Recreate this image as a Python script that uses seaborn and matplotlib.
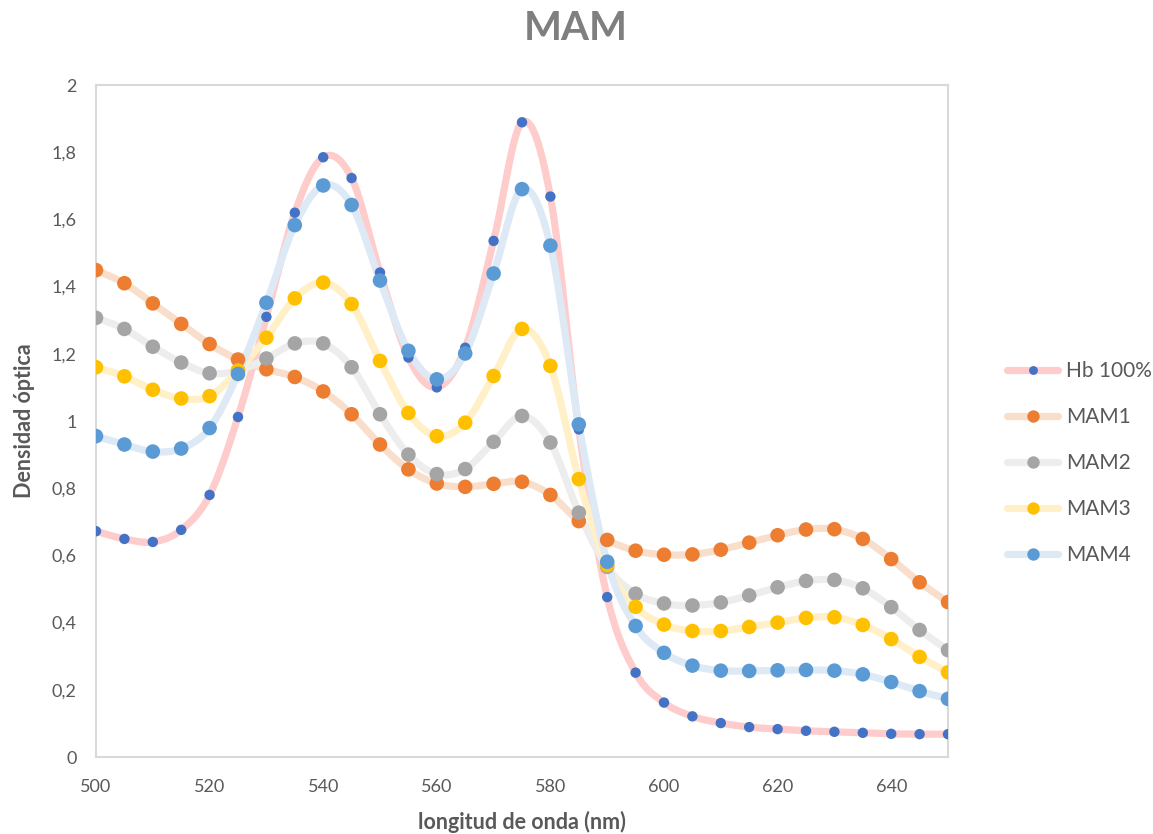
import numpy as np
import pandas as pd
import matplotlib
matplotlib.use("Agg")
import matplotlib.pyplot as plt
import seaborn as sns
from matplotlib.lines import Line2D

wavelength = list(range(500, 651, 5))
hb100 = [0.672, 0.649, 0.640, 0.676, 0.780, 1.012, 1.310, 1.620, 1.785, 1.723,
         1.442, 1.189, 1.100, 1.218, 1.536, 1.889, 1.668, 0.975, 0.476, 0.251,
         0.162, 0.121, 0.101, 0.089, 0.083, 0.078, 0.075, 0.072, 0.069, 0.068, 0.068]
mam1 = [1.449, 1.410, 1.350, 1.289, 1.229, 1.183, 1.154, 1.131, 1.088, 1.020,
        0.930, 0.856, 0.814, 0.804, 0.813, 0.819, 0.780, 0.702, 0.646, 0.614,
        0.602, 0.603, 0.617, 0.638, 0.660, 0.677, 0.678, 0.649, 0.589, 0.520, 0.461]
mam2 = [1.307, 1.274, 1.221, 1.174, 1.142, 1.150, 1.186, 1.231, 1.231, 1.160,
        1.020, 0.900, 0.842, 0.857, 0.938, 1.015, 0.936, 0.727, 0.566, 0.486,
        0.457, 0.451, 0.460, 0.481, 0.505, 0.524, 0.527, 0.502, 0.446, 0.378, 0.318]
mam3 = [1.160, 1.133, 1.093, 1.067, 1.074, 1.150, 1.248, 1.365, 1.412, 1.348,
        1.179, 1.024, 0.955, 0.995, 1.134, 1.274, 1.164, 0.827, 0.571, 0.447,
        0.394, 0.375, 0.375, 0.387, 0.400, 0.414, 0.416, 0.393, 0.351, 0.298, 0.252]
mam4 = [0.955, 0.930, 0.909, 0.918, 0.979, 1.140, 1.352, 1.583, 1.701, 1.643,
        1.418, 1.209, 1.124, 1.201, 1.439, 1.690, 1.522, 0.990, 0.581, 0.390,
        0.310, 0.272, 0.257, 0.256, 0.258, 0.259, 0.257, 0.246, 0.223, 0.196, 0.173]

series_names = ["Hb 100%", "MAM1", "MAM2", "MAM3", "MAM4"]
series_values = [hb100, mam1, mam2, mam3, mam4]
line_colors = ["#FFCCCC", "#F9DFCB", "#EDEDED", "#FFF0C8", "#DDE9F5"]
marker_colors = ["#4472C4", "#ED7D31", "#A5A5A5", "#FFC000", "#5B9BD5"]
marker_sizes = [7.5, 10.5, 10.5, 10.5, 10.5]

y_ticks = [0, 0.2, 0.4, 0.6, 0.8, 1.0, 1.2, 1.4, 1.6, 1.8, 2.0]
x_ticks = [500, 520, 540, 560, 580, 600, 620, 640]


def smooth_curve(x, y, n=30):
    # Bezier smoothing (as in spreadsheet "smoothed line") through the data points
    x = np.asarray(x, float)
    y = np.asarray(y, float)
    P = np.column_stack([x, y])
    Pe = np.vstack([P[0], P, P[-1]])
    out = []
    t = np.linspace(0, 1, n)[:, None]
    for i in range(len(P) - 1):
        p0, p1, p2, p3 = Pe[i], Pe[i + 1], Pe[i + 2], Pe[i + 3]
        c1 = p1 + (p2 - p0) / 6.0
        c2 = p2 - (p3 - p1) / 6.0
        seg = ((1 - t) ** 3) * p1 + 3 * ((1 - t) ** 2) * t * c1 + 3 * (1 - t) * t ** 2 * c2 + t ** 3 * p2
        out.append(seg if i == 0 else seg[1:])
    out = np.vstack(out)
    return out[:, 0], out[:, 1]


sns.set_theme(style="white")
plt.rcParams["font.family"] = ["Lato", "DejaVu Sans"]

fig = plt.figure(figsize=(11.53, 8.34), dpi=100)
ax = fig.add_axes([96 / 1153, 77 / 834, 852 / 1153, 672 / 834])

for name, vals, lc, mc, ms in zip(series_names, series_values, line_colors, marker_colors, marker_sizes):
    sx, sy = smooth_curve(wavelength, vals)
    curve = pd.DataFrame({"x": sx, "y": sy})
    sns.lineplot(data=curve, x="x", y="y", ax=ax, color=lc, linewidth=5.2,
                 sort=False, estimator=None, solid_capstyle="round")
    pts = pd.DataFrame({"x": wavelength, "y": vals})
    sns.scatterplot(data=pts, x="x", y="y", ax=ax, color=mc, s=ms ** 2,
                    edgecolor="none", zorder=3)

ax.set_xlim(500, 650)
ax.set_ylim(0, 2)
ax.set_xticks(x_ticks)
ax.set_yticks(y_ticks)
ax.set_xticklabels([str(v) for v in x_ticks])
ax.set_yticklabels([("%g" % v).replace(".", ",") for v in y_ticks])
ax.tick_params(axis="both", length=0, labelsize=13, labelcolor="#595959")
ax.tick_params(axis="x", pad=16)
ax.tick_params(axis="y", pad=14)
for sp in ax.spines.values():
    sp.set_color("#D9D9D9")
    sp.set_linewidth(1.5)
ax.grid(False)

ax.set_xlabel("longitud de onda (nm)", fontsize=15.5, fontweight="bold", color="#595959", labelpad=11)
ax.set_ylabel("Densidad óptica", fontsize=15.5, fontweight="bold", color="#595959", labelpad=12)

fig.suptitle("MAM", x=0.499, y=1 - 28 / 834, va="center", fontsize=29,
             fontweight="bold", color="#7F7F7F")

handles = [Line2D([0], [0], color=lc, linewidth=5.2, marker="o", markersize=ms * 0.85,
                  markerfacecolor=mc, markeredgecolor="none")
           for lc, mc, ms in zip(line_colors, marker_colors, marker_sizes)]
leg = fig.legend(handles, series_names, loc="center left", bbox_to_anchor=(999 / 1153, 1 - 463 / 834),
                 frameon=False, fontsize=15, labelspacing=1.25, handlelength=2.45,
                 handletextpad=0.35, borderaxespad=0)
for t in leg.get_texts():
    t.set_color("#595959")

fig.savefig("out.png", dpi=100)
